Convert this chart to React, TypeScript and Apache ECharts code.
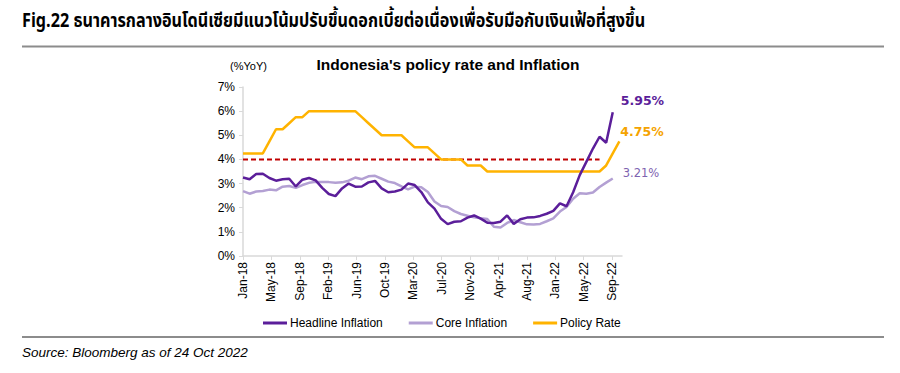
import React, { useEffect, useRef } from "react";
import * as echarts from "echarts";

// Tick labels on the x axis (evenly spaced, as in the original date axis)
const tickLabels = [
  "Jan-18", "May-18", "Sep-18", "Feb-19", "Jun-19", "Oct-19", "Mar-20",
  "Jul-20", "Nov-20", "Apr-21", "Aug-21", "Jan-22", "May-22", "Sep-22",
];
// Spacing of the labelled ticks, in months from Jan-18
const TICK_STEP = 4.3;

// Monthly series, Jan-18 .. Sep-22 (index = months since Jan-18)
const headline = [
  3.25, 3.18, 3.40, 3.41, 3.23, 3.12, 3.18, 3.20, 2.88, 3.16, 3.23, 3.13,
  2.82, 2.57, 2.48, 2.80, 3.00, 2.87, 2.88, 3.05, 3.11, 2.80, 2.64, 2.67,
  2.75, 3.00, 2.94, 2.65, 2.22, 1.96, 1.54, 1.32, 1.42, 1.44, 1.59, 1.68,
  1.55, 1.38, 1.37, 1.42, 1.68, 1.33, 1.52, 1.59, 1.60, 1.66, 1.75, 1.87,
  2.18, 2.06, 2.64, 3.35, 3.90, 4.45, 4.94, 4.69, 5.95,
];
const core = [
  2.69, 2.58, 2.67, 2.69, 2.75, 2.72, 2.87, 2.90, 2.82, 2.94, 3.03, 3.07,
  3.06, 3.06, 3.03, 3.05, 3.12, 3.25, 3.18, 3.30, 3.32, 3.20, 3.08, 3.02,
  2.88, 2.76, 2.87, 2.85, 2.65, 2.26, 2.07, 2.03, 1.86, 1.74, 1.67, 1.60,
  1.56, 1.53, 1.21, 1.18, 1.37, 1.49, 1.40, 1.31, 1.30, 1.33, 1.44, 1.56,
  1.84, 2.03, 2.37, 2.60, 2.58, 2.63, 2.86, 3.04, 3.21,
];
// Jan-18 .. Oct-22
const policyRate = [
  4.25, 4.25, 4.25, 4.25, 4.75, 5.25, 5.25, 5.50, 5.75, 5.75, 6.00, 6.00,
  6.00, 6.00, 6.00, 6.00, 6.00, 6.00, 5.75, 5.50, 5.25, 5.00, 5.00, 5.00,
  5.00, 4.75, 4.50, 4.50, 4.50, 4.25, 4.00, 4.00, 4.00, 4.00, 3.75, 3.75,
  3.75, 3.50, 3.50, 3.50, 3.50, 3.50, 3.50, 3.50, 3.50, 3.50, 3.50, 3.50,
  3.50, 3.50, 3.50, 3.50, 3.50, 3.50, 3.50, 3.75, 4.25, 4.75,
];
const targetRate = 4;
// target line: start month, label month, end month
const targetMonths = [0, 41, 54];

const C_HEAD = "#5B1E9A";
const C_CORE = "#B3A0D3";
const C_POLICY = "#FFB300";
const C_TARGET = "#C00000";
const FONT = "'Liberation Sans', Arial, sans-serif";

export default function App() {
  const ref = useRef<HTMLDivElement>(null);

  useEffect(() => {
    document.body.style.margin = "0";
    const chart = echarts.init(ref.current!, null, { renderer: "svg" });
    const tickValues = tickLabels.map((_, k) => k * TICK_STEP);
    const pct = (p: any) => Number(p.value[1]).toFixed(2) + "%";

    chart.setOption({
      animation: false,
      backgroundColor: "#fff",
      textStyle: { fontFamily: FONT },
      grid: { left: 243, top: 87, width: 379, height: 169, containLabel: false },
      legend: {
        data: ["Headline Inflation", "Core Inflation", "Policy Rate"],
        left: 258,
        top: 312,
        icon: "rect",
        itemWidth: 24,
        itemHeight: 3,
        itemGap: 26,
        textStyle: { fontSize: 12, color: "#000", fontFamily: FONT, padding: [0, 0, 0, -2] },
      },
      xAxis: {
        type: "value",
        min: 0,
        max: 57.4,
        axisLine: { show: true, lineStyle: { color: "#D9D9D9", width: 1.5 } },
        axisTick: {
          show: true,
          length: 4,
          customValues: tickValues,
          lineStyle: { color: "#D9D9D9" },
        },
        axisLabel: {
          customValues: tickValues,
          rotate: 90,
          margin: 6,
          fontSize: 12,
          color: "#000",
          fontFamily: FONT,
          formatter: (v: number) => tickLabels[Math.round(v / TICK_STEP)] ?? "",
        },
        splitLine: { show: false },
      },
      yAxis: {
        type: "value",
        min: 0,
        max: 7,
        interval: 1,
        axisLine: { show: true, lineStyle: { color: "#D9D9D9", width: 1.5 } },
        axisTick: { show: true, length: 4, lineStyle: { color: "#D9D9D9" } },
        axisLabel: {
          formatter: "{value}%",
          fontSize: 12,
          color: "#000",
          margin: 8,
          fontFamily: FONT,
        },
        splitLine: { show: false },
      },
      graphic: [
        {
          type: "text",
          x: 22,
          y: 21,
          scaleX: 0.81,
          style: {
            text: "Fig.22 ธนาคารกลางอินโดนีเซียมีแนวโน้มปรับขึ้นดอกเบี้ยต่อเนื่องเพื่อรับมือกับเงินเฟ้อที่สูงขึ้น",
            font: "bold 20px 'Noto Sans Thai', 'Noto Sans', 'Liberation Sans', sans-serif",
            fill: "#000",
            align: "left",
            verticalAlign: "middle",
          },
        },
        {
          type: "line",
          shape: { x1: 22, y1: 46.5, x2: 884, y2: 46.5 },
          style: { stroke: "#8C8C8C", lineWidth: 2 },
        },
        {
          type: "line",
          shape: { x1: 22, y1: 337, x2: 884, y2: 337 },
          style: { stroke: "#8C8C8C", lineWidth: 2 },
        },
        {
          type: "text",
          x: 22,
          y: 352,
          style: {
            text: "Source: Bloomberg as of 24 Oct 2022",
            font: "italic 13.5px 'Liberation Sans', Arial, sans-serif",
            fill: "#000",
            align: "left",
            verticalAlign: "middle",
          },
        },
        {
          type: "text",
          x: 230,
          y: 66,
          style: {
            text: "(%YoY)",
            font: "11px 'Liberation Sans', Arial, sans-serif",
            fill: "#000",
            align: "left",
            verticalAlign: "middle",
          },
        },
        {
          type: "text",
          x: 448,
          y: 64,
          style: {
            text: "Indonesia's policy rate and Inflation",
            font: "bold 15.5px 'Liberation Sans', Arial, sans-serif",
            fill: "#000",
            align: "center",
            verticalAlign: "middle",
          },
        },
      ],
      series: [
        {
          name: "Target",
          type: "line",
          symbol: "none",
          showSymbol: false,
          z: 1,
          lineStyle: { color: C_TARGET, width: 2, type: [5, 3] },
          label: { show: false },
          data: targetMonths.map((m, i) =>
            i === 1
              ? {
                  value: [m, targetRate],
                  label: {
                    show: true,
                    position: "top",
                    distance: 8,
                    formatter: "Target Inflation = 4%",
                    fontSize: 13,
                    color: "#000",
                    fontFamily: FONT,
                  },
                }
              : [m, targetRate]
          ),
        },
        {
          name: "Policy Rate",
          type: "line",
          symbol: "none",
          showSymbol: false,
          color: C_POLICY,
          z: 2,
          lineStyle: { color: C_POLICY, width: 2.5 },
          data: policyRate.map((v, i) => [i, v]),
          endLabel: {
            show: true,
            formatter: pct,
            color: "#F5A300",
            fontWeight: "bold",
            fontSize: 12.5,
            fontFamily: "'DejaVu Sans', sans-serif",
            offset: [-7, -10],
          },
        },
        {
          name: "Core Inflation",
          type: "line",
          symbol: "none",
          showSymbol: false,
          color: C_CORE,
          z: 3,
          lineStyle: { color: C_CORE, width: 2.5 },
          data: core.map((v, i) => [i, v]),
          endLabel: {
            show: true,
            formatter: pct,
            color: "#7E62B0",
            fontSize: 11.5,
            fontFamily: "'DejaVu Sans', sans-serif",
            offset: [2, -6],
          },
        },
        {
          name: "Headline Inflation",
          type: "line",
          symbol: "none",
          showSymbol: false,
          color: C_HEAD,
          z: 4,
          lineStyle: { color: C_HEAD, width: 2.5 },
          data: headline.map((v, i) => [i, v]),
          endLabel: {
            show: true,
            formatter: pct,
            color: C_HEAD,
            fontWeight: "bold",
            fontSize: 12.5,
            fontFamily: "'DejaVu Sans', sans-serif",
            offset: [0, -12],
          },
        },
      ],
    });

    return () => chart.dispose();
  }, []);

  return <div ref={ref} style={{ width: 900, height: 373 }} />;
}
